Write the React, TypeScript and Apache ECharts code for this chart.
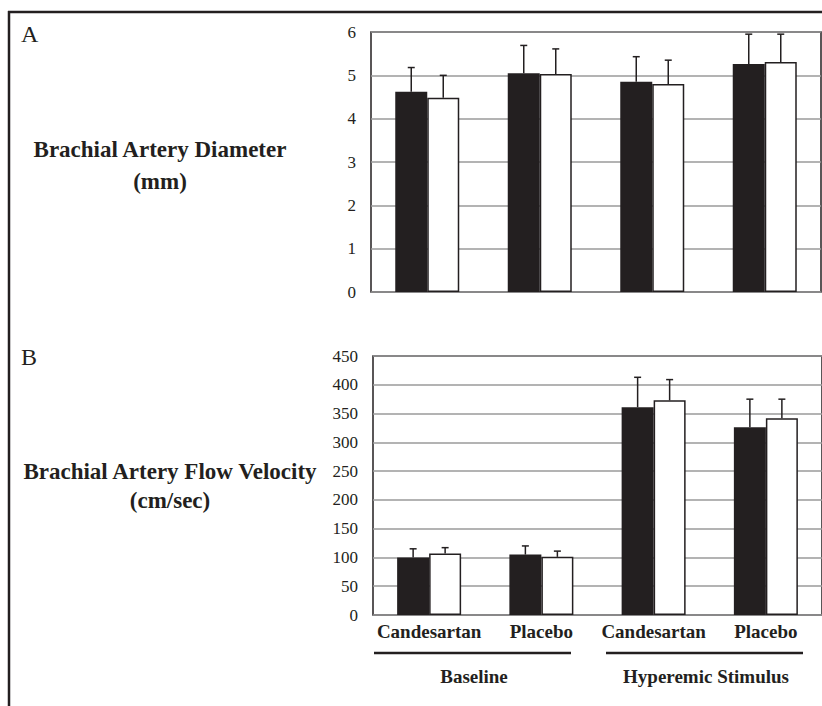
import React, { useEffect, useRef } from "react";
import * as echarts from "echarts";

const categories = ["Candesartan", "Placebo", "Candesartan", "Placebo"];
const groupLabels = ["Baseline", "Hyperemic Stimulus"];

// Panel A: Brachial artery diameter (mm)
const diamCandesartanGroup = [4.62, 5.05, 4.85, 5.26];
const diamCandesartanErr = [5.18, 5.69, 5.43, 5.95];
const diamPlaceboGroup = [4.48, 5.03, 4.8, 5.31];
const diamPlaceboErr = [5.0, 5.61, 5.35, 5.95];

// Panel B: Brachial artery flow velocity (cm/sec)
const velCandesartanGroup = [100, 105, 361, 326];
const velCandesartanErr = [115, 120, 413, 375];
const velPlaceboGroup = [107, 101, 373, 342];
const velPlaceboErr = [117, 111, 409, 375];

const SERIF = "'Liberation Serif', 'Times New Roman', serif";
const INK = "#231f20";
const BAR_W = 32;

function errSeries(xi: number, yi: number, means: number[], uppers: number[], offset: number) {
  return {
    type: "custom",
    xAxisIndex: xi,
    yAxisIndex: yi,
    z: 5,
    data: means.map((m, i) => [i, m, uppers[i]]),
    encode: { x: 0, y: [1, 2] },
    renderItem: (params: any, api: any) => {
      const base = api.coord([api.value(0), api.value(1)]);
      const top = api.coord([api.value(0), api.value(2)]);
      const cx = base[0] + offset;
      return {
        type: "group",
        children: [
          { type: "line", shape: { x1: cx, y1: base[1], x2: cx, y2: top[1] }, style: { stroke: INK, lineWidth: 1.5 } },
          { type: "line", shape: { x1: cx - 3.5, y1: top[1], x2: cx + 3.5, y2: top[1] }, style: { stroke: INK, lineWidth: 1.5 } },
        ],
      };
    },
  };
}

function barPair(xi: number, yi: number, blackVals: number[], whiteVals: number[]) {
  return [
    {
      type: "bar",
      xAxisIndex: xi,
      yAxisIndex: yi,
      data: blackVals,
      barWidth: BAR_W,
      barGap: "0%",
      itemStyle: { color: INK },
    },
    {
      type: "bar",
      xAxisIndex: xi,
      yAxisIndex: yi,
      data: whiteVals,
      barWidth: BAR_W,
      barGap: "0%",
      itemStyle: { color: "#ffffff", borderColor: INK, borderWidth: 1.5 },
    },
  ];
}

export default function App() {
  const ref = useRef<HTMLDivElement>(null);
  useEffect(() => {
    document.body.style.margin = "0";
    const chart = echarts.init(ref.current!, null, { renderer: "svg" });
    const yLabel = { fontFamily: SERIF, fontSize: 17, color: INK, margin: 15 };
    const split = { show: true, lineStyle: { color: "#9a9a9a", width: 1.5 } };
    const option: any = {
      animation: false,
      backgroundColor: "#ffffff",
      grid: [
        { left: 371, top: 32, width: 450, height: 260, show: true, borderColor: INK, borderWidth: 1.5 },
        { left: 373, top: 356, width: 449, height: 259, show: true, borderColor: INK, borderWidth: 1.5 },
      ],
      xAxis: [
        {
          type: "category", gridIndex: 0, data: categories,
          axisLine: { show: false }, axisTick: { show: false }, axisLabel: { show: false },
        },
        {
          type: "category", gridIndex: 1, data: categories,
          axisLine: { show: false }, axisTick: { show: false },
          axisLabel: { interval: 0, fontFamily: SERIF, fontSize: 19, fontWeight: "bold", color: INK, margin: 7 },
        },
      ],
      yAxis: [
        {
          type: "value", gridIndex: 0, min: 0, max: 6, interval: 1,
          axisLine: { show: false }, axisTick: { show: false }, axisLabel: yLabel, splitLine: split,
        },
        {
          type: "value", gridIndex: 1, min: 0, max: 450, interval: 50,
          axisLine: { show: false }, axisTick: { show: false }, axisLabel: yLabel, splitLine: split,
        },
      ],
      series: [
        ...barPair(0, 0, diamCandesartanGroup, diamPlaceboGroup),
        errSeries(0, 0, diamCandesartanGroup, diamCandesartanErr, -BAR_W / 2),
        errSeries(0, 0, diamPlaceboGroup, diamPlaceboErr, BAR_W / 2),
        ...barPair(1, 1, velCandesartanGroup, velPlaceboGroup),
        errSeries(1, 1, velCandesartanGroup, velCandesartanErr, -BAR_W / 2),
        errSeries(1, 1, velPlaceboGroup, velPlaceboErr, BAR_W / 2),
      ],
      graphic: [
        { type: "line", shape: { x1: 8, y1: 12, x2: 822, y2: 12 }, style: { stroke: INK, lineWidth: 2.5 } },
        { type: "line", shape: { x1: 9, y1: 11, x2: 9, y2: 706 }, style: { stroke: INK, lineWidth: 2.5 } },
        { type: "text", x: 21, y: 34, style: { text: "A", font: `24px ${SERIF}`, fill: INK, textVerticalAlign: "middle" } },
        { type: "text", x: 21, y: 357, style: { text: "B", font: `24px ${SERIF}`, fill: INK, textVerticalAlign: "middle" } },
        { type: "text", x: 160, y: 149, style: { text: "Brachial Artery Diameter", font: `bold 23px ${SERIF}`, fill: INK, textAlign: "center", textVerticalAlign: "middle" } },
        { type: "text", x: 160, y: 181, style: { text: "(mm)", font: `bold 23px ${SERIF}`, fill: INK, textAlign: "center", textVerticalAlign: "middle" } },
        { type: "text", x: 170, y: 471, style: { text: "Brachial Artery Flow Velocity", font: `bold 23px ${SERIF}`, fill: INK, textAlign: "center", textVerticalAlign: "middle" } },
        { type: "text", x: 170, y: 500, style: { text: "(cm/sec)", font: `bold 23px ${SERIF}`, fill: INK, textAlign: "center", textVerticalAlign: "middle" } },
        { type: "line", shape: { x1: 374, y1: 653, x2: 571, y2: 653 }, style: { stroke: INK, lineWidth: 2.5 } },
        { type: "line", shape: { x1: 606, y1: 653, x2: 803, y2: 653 }, style: { stroke: INK, lineWidth: 2.5 } },
        { type: "text", x: 474, y: 676, style: { text: groupLabels[0], font: `bold 19px ${SERIF}`, fill: INK, textAlign: "center", textVerticalAlign: "middle" } },
        { type: "text", x: 706, y: 676, style: { text: groupLabels[1], font: `bold 19px ${SERIF}`, fill: INK, textAlign: "center", textVerticalAlign: "middle" } },
      ],
    };
    chart.setOption(option);
    return () => chart.dispose();
  }, []);
  return <div ref={ref} style={{ width: 822, height: 706 }} />;
}
